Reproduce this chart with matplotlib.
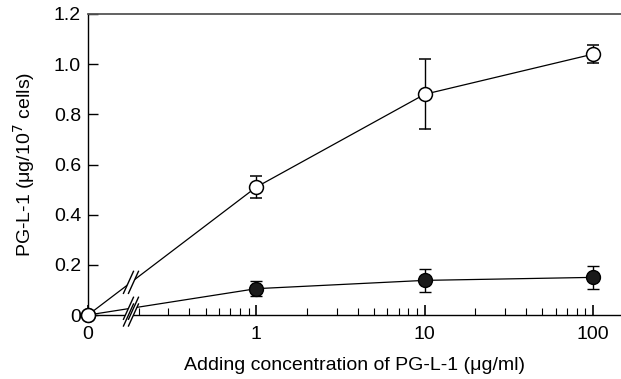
import matplotlib
matplotlib.use("Agg")
import matplotlib.pyplot as plt
import numpy as np
from matplotlib.transforms import IdentityTransform

plt.rcParams["font.family"] = ["Liberation Sans", "DejaVu Sans"]
plt.rcParams["font.size"] = 14

# data
conc = [0, 1, 10, 100]
open_mean = [0, 0.51, 0.88, 1.04]
open_err = [0, 0.045, 0.14, 0.035]
filled_mean = [0, 0.105, 0.138, 0.15]
filled_err = [0, 0.03, 0.045, 0.047]

major_ticks = [0, 1, 10, 100]
major_labels = ["0", "1", "10", "100"]
minor_ticks = [m * d for d in (0.1, 1, 10) for m in range(2, 10)]
y_ticks = [0, 0.2, 0.4, 0.6, 0.8, 1.0, 1.2]
y_labels = ["0", "0.2", "0.4", "0.6", "0.8", "1.0", "1.2"]

X0 = -1.0      # where zero sits on the log axis
XBREAK = 0.18  # axis break position


def fwd(x):
    x = np.asarray(x, dtype=float)
    return np.where(x > 0, np.log10(np.where(x > 0, x, 1.0)), X0)


def inv(u):
    u = np.asarray(u, dtype=float)
    return np.where(u > X0, 10.0 ** u, 0.0)


fig = plt.figure(figsize=(6.21, 3.79), dpi=100)
ax = fig.add_axes([88 / 621, 1 - 315 / 379, 1 - 88 / 621, (315 - 14) / 379])
ax.set_xscale("function", functions=(fwd, inv))
ax.set_xlim(0, 146.6)
ax.set_ylim(0, 1.2)

ax.spines["right"].set_visible(False)
ax.spines["top"].set_color("#555555")
ax.spines["top"].set_linewidth(1.3)
for s in ("left", "bottom"):
    ax.spines[s].set_linewidth(1.0)

ax.set_xticks(major_ticks)
ax.set_xticklabels(major_labels)
ax.set_xticks(minor_ticks, minor=True)
ax.set_yticks(y_ticks)
ax.set_yticklabels(y_labels)
ax.tick_params(axis="x", which="major", direction="in", length=7, width=1.2, pad=8)
ax.tick_params(axis="x", which="minor", direction="in", length=5, width=0.8)
ax.tick_params(axis="y", direction="in", length=7, width=1.0, pad=5)
ax.tick_params(top=False, right=False, which="both")

ax.errorbar(conc, filled_mean, yerr=filled_err, fmt="-o", color="black",
            mfc="#1a1a1a", mec="black", ms=10, lw=0.9, elinewidth=1.0,
            capsize=4.5, capthick=1.0, clip_on=False, zorder=3)
ax.errorbar(conc, open_mean, yerr=open_err, fmt="-o", color="black",
            mfc="white", mec="black", mew=1.1, ms=10, lw=0.9, elinewidth=1.0,
            capsize=4.5, capthick=1.0, clip_on=False, zorder=4)

ax.set_xlabel("Adding concentration of PG-L-1 (μg/ml)", labelpad=10)
ax.set_ylabel("PG-L-1 (μg/10$^7$ cells)", labelpad=12)


def break_mark(cx, cy, h=22, gap=5, slant=5):
    # white gap and two slanted strokes around display point (cx, cy)
    tr = IdentityTransform()
    poly = [(cx - gap / 2 - slant, cy - h / 2), (cx + gap / 2 - slant, cy - h / 2),
            (cx + gap / 2 + slant, cy + h / 2), (cx - gap / 2 + slant, cy + h / 2)]
    ax.add_patch(plt.Polygon(poly, closed=True, facecolor="white", edgecolor="none",
                             transform=tr, clip_on=False, zorder=5))
    for d in (-gap / 2, gap / 2):
        ax.add_line(plt.Line2D([cx + d - slant, cx + d + slant], [cy - h / 2, cy + h / 2],
                               color="black", lw=1.0, transform=tr, clip_on=False, zorder=6))


bx, by = ax.transData.transform((XBREAK, 0))
for series in (open_mean, filled_mean):
    p0 = ax.transData.transform((conc[0], series[0]))
    p1 = ax.transData.transform((conc[1], series[1]))
    t = (bx - p0[0]) / (p1[0] - p0[0])
    break_mark(bx, p0[1] + t * (p1[1] - p0[1]))
break_mark(bx, by)

fig.savefig("out.png", dpi=100)
